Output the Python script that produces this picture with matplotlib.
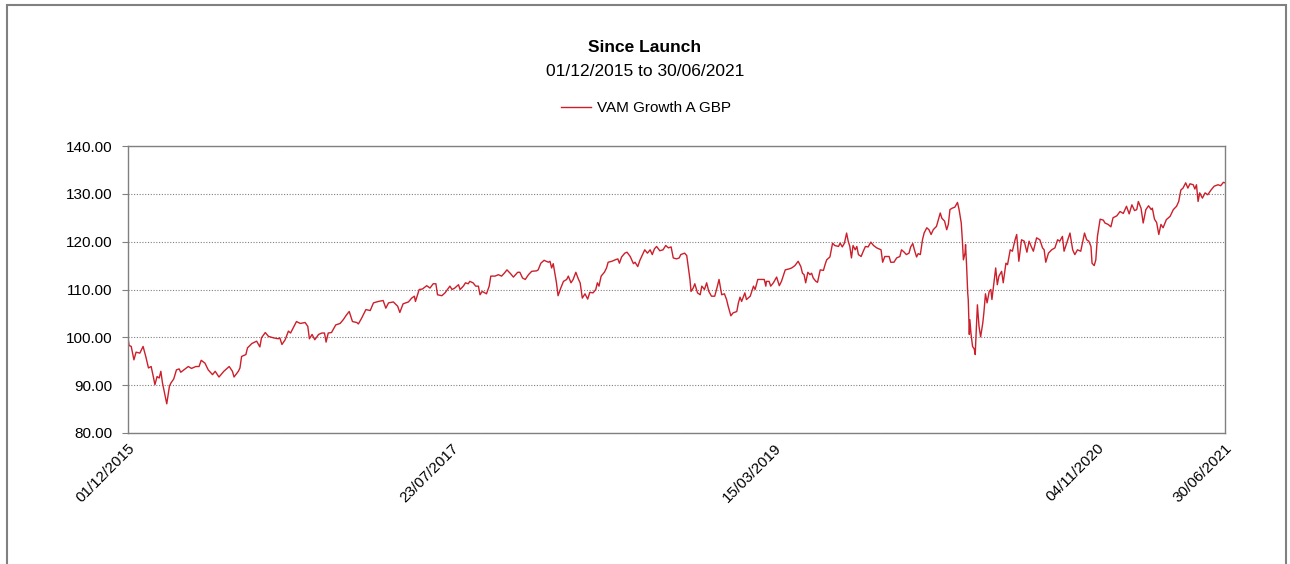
import datetime as dt
import matplotlib
matplotlib.use("Agg")
import matplotlib.pyplot as plt
from matplotlib.patches import Rectangle

plt.rcParams['font.family'] = ['Liberation Sans', 'DejaVu Sans']

launch = dt.date(2015, 12, 1)
end = dt.date(2021, 6, 30)

# days since launch
day_offset = [
    0, 2, 6, 11, 15, 22, 28, 33, 38, 43, 47, 50, 54, 58, 61, 64, 72, 77, 80, 85,
    90, 95, 98, 106, 112, 118, 126, 132, 136, 143, 149, 157, 162, 169, 178, 188,
    194, 197, 205, 208, 211, 219, 222, 230, 239, 245, 248, 255, 261, 270, 279, 282,
    286, 292, 298, 302, 307, 313, 320, 329, 334, 337, 342, 347, 354, 360, 365, 368,
    372, 378, 386, 394, 400, 406, 411, 417, 425, 428, 434, 442, 450, 456, 465, 474,
    479, 484, 493, 501, 505, 511, 521, 527, 532, 534, 541, 547, 555, 561, 567, 572,
    575, 583, 589, 598, 602, 607, 614, 617, 623, 627, 632, 635, 641, 646, 651, 654,
    658, 666, 671, 674, 682, 688, 694, 699, 704, 710, 716, 724, 728, 733, 738, 744,
    750, 759, 762, 767, 773, 781, 784, 787, 790, 793, 796, 799, 804, 809, 815, 818,
    823, 827, 832, 837, 840, 844, 849, 854, 858, 864, 869, 872, 875, 879, 885, 889,
    892, 899, 905, 910, 913, 917, 923, 927, 933, 939, 942, 947, 951, 955, 960, 965,
    970, 974, 978, 982, 988, 994, 999, 1004, 1009, 1013, 1019, 1024, 1027, 1034, 1038,
    1044, 1046, 1050, 1053, 1058, 1063, 1066, 1071, 1075, 1079, 1084, 1090, 1095,
    1098, 1103, 1108, 1112, 1115, 1120, 1124, 1131, 1134, 1137, 1140, 1146, 1149,
    1156, 1162, 1165, 1170, 1177, 1182, 1185, 1186, 1191, 1194, 1199, 1205, 1210,
    1214, 1221, 1228, 1233, 1239, 1245, 1250, 1253, 1256, 1259, 1263, 1267, 1270,
    1273, 1278, 1281, 1286, 1292, 1295, 1298, 1304, 1309, 1313, 1320, 1323, 1327,
    1331, 1335, 1338, 1341, 1344, 1347, 1351, 1354, 1357, 1362, 1366, 1370, 1375,
    1380, 1385, 1391, 1399, 1402, 1406, 1414, 1417, 1423, 1428, 1434, 1437, 1442,
    1446, 1451, 1454, 1458, 1461, 1465, 1468, 1472, 1476, 1479, 1484, 1488, 1492,
    1496, 1502, 1509, 1512, 1517, 1521, 1524, 1527, 1531, 1536, 1541, 1544, 1548,
    1550, 1552, 1555, 1556, 1558, 1560, 1561, 1563, 1564, 1566, 1569, 1572, 1574,
    1575, 1578, 1581, 1584, 1588, 1590, 1593, 1596, 1600, 1603, 1605, 1608, 1612,
    1615, 1618, 1623, 1626, 1631, 1634, 1639, 1643, 1648, 1651, 1655, 1660, 1665,
    1670, 1674, 1678, 1682, 1688, 1694, 1699, 1702, 1705, 1710, 1716, 1722, 1727,
    1731, 1736, 1739, 1744, 1750, 1755, 1759, 1764, 1770, 1777, 1781, 1785, 1789,
    1791, 1795, 1798, 1801, 1806, 1812, 1815, 1821, 1826, 1830, 1837, 1843, 1849,
    1855, 1860, 1865, 1870, 1874, 1877, 1882, 1886, 1891, 1896, 1901, 1903, 1907,
    1911, 1915, 1919, 1923, 1929, 1936, 1942, 1948, 1952, 1956, 1960, 1965, 1969,
    1973, 1979, 1982, 1985, 1988, 1991, 1996, 2001, 2006, 2012, 2018, 2025, 2030,
    2035, 2038,
]

vam_growth = [
    100.0, 98.3, 98.1, 95.3, 96.9, 96.7, 98.1, 96.0, 93.6, 93.9, 91.8, 90.1, 91.8, 91.5, 92.9, 90.5, 86.1, 89.8, 90.5, 91.3,
    93.2, 93.4, 92.7, 93.4, 93.9, 93.5, 93.9, 93.9, 95.2, 94.6, 93.2, 92.2, 92.9, 91.7, 92.9, 93.9,
    92.9, 91.7, 92.9, 93.6, 96.0, 96.4, 97.8, 98.7, 99.2, 98.0, 99.9, 101.0, 100.2, 99.9, 99.7, 99.9,
    98.5, 99.5, 101.3, 100.9, 102.0, 103.3, 102.9, 103.1, 102.3, 99.7, 100.6, 99.5, 100.6, 100.9, 100.9, 99.0,
    100.9, 101.0, 102.6, 102.9, 103.7, 104.7, 105.4, 103.3, 103.1, 102.8, 104.0, 105.8, 105.6, 107.2, 107.5, 107.7,
    106.1, 107.2, 107.4, 106.5, 105.2, 107.0, 107.4, 108.2, 108.6, 107.5, 110.0, 110.1, 110.8, 110.3, 111.2, 111.2,
    108.9, 108.7, 109.3, 110.7, 110.0, 110.3, 111.0, 110.0, 110.7, 111.4, 111.2, 111.7, 111.4, 110.7, 110.7, 108.9,
    109.6, 109.1, 110.7, 112.8, 112.8, 113.1, 112.8, 113.4, 114.1, 113.4, 112.6, 113.6, 113.6, 112.4, 112.1, 113.1,
    113.8, 113.9, 114.1, 115.5, 116.1, 115.7, 115.9, 114.5, 115.4, 113.4, 111.4, 108.7, 110.3, 111.7, 112.1, 112.8,
    111.4, 112.1, 113.6, 112.1, 111.4, 108.2, 109.1, 108.0, 109.4, 109.3, 110.0, 111.4, 110.7, 112.8, 113.6, 114.5,
    115.7, 115.9, 116.2, 116.4, 115.5, 116.8, 117.6, 117.8, 116.9, 115.4, 115.7, 114.8, 116.1, 117.1, 118.3, 117.6,
    118.3, 117.3, 118.5, 119.0, 118.1, 118.3, 119.2, 118.7, 118.9, 116.6, 116.4, 116.6, 117.3, 117.6, 117.1,
    112.1, 109.6, 110.3, 111.2, 109.3, 108.9, 110.7, 110.0, 111.4, 109.6, 108.6, 108.6, 110.7,
    112.1, 108.9, 109.1, 107.9, 106.5, 104.5, 105.1, 105.4, 107.2, 108.4, 107.5, 109.3, 107.9,
    108.6, 110.7, 110.0, 112.1, 112.1, 112.1, 110.7, 111.7, 111.7, 110.7, 111.4, 112.6, 110.8,
    111.7, 114.1, 114.3, 114.5, 115.0, 115.9, 114.8, 113.4, 113.1, 111.4, 113.6, 113.1, 113.4,
    112.4, 111.7, 111.5, 114.1, 114.0, 115.2, 116.2, 116.8, 119.7, 119.2, 119.0, 119.7, 118.9,
    119.7, 121.8, 120.1, 119.0, 116.6, 119.2, 118.3, 119.0, 117.3, 116.9, 118.0, 119.0, 118.9,
    119.9, 119.2, 118.7, 118.3, 115.7, 116.9, 116.9, 115.7, 115.7, 116.6, 116.9, 118.3, 117.8,
    117.3, 117.6, 118.9, 119.6, 118.3, 116.8, 117.5, 117.3, 120.4, 121.8, 122.9, 122.5, 121.5,
    122.5, 123.2, 126.0, 124.9, 124.3, 122.5, 123.6, 126.7, 127.0, 127.2, 128.2, 126.7, 123.9,
    120.4, 116.2, 117.6, 119.4, 114.8, 109.3, 107.9, 100.6, 103.7, 100.9, 98.1, 97.6, 96.4,
    99.2, 106.8, 102.3, 100.1, 103.0, 105.1, 109.1, 107.2, 109.6, 110.0, 107.9, 110.7, 114.5,
    111.0, 112.8, 113.8, 111.4, 115.5, 115.2, 118.3, 118.0, 120.4, 121.5, 115.9, 120.4, 120.1,
    117.8, 120.1, 119.0, 118.0, 120.8, 120.4, 118.7, 118.3, 115.7, 117.6, 118.3, 118.7, 120.4,
    120.1, 121.1, 118.0, 119.7, 121.8, 118.3, 117.3, 118.3, 118.0, 121.8, 120.4, 120.1, 119.0,
    115.5, 115.0, 116.2, 121.1, 124.7, 124.5, 123.9, 123.6, 123.1, 125.0, 125.4, 126.3, 125.9,
    127.4, 125.8, 127.7, 126.5, 126.7, 128.4, 127.0, 123.9, 126.7, 127.5, 126.7, 127.0, 124.7,
    124.0, 121.5, 123.6, 122.9, 124.6, 125.3, 126.7, 127.4, 128.4, 130.8, 131.2, 132.3, 131.2,
    132.1, 131.9, 131.0, 131.9, 128.4, 130.2, 129.1, 130.2, 129.8, 130.8, 131.6, 131.9, 131.7,
    132.4, 132.3,
]

tick_dates = ["01/12/2015", "23/07/2017", "15/03/2019", "04/11/2020", "30/06/2021"]
y_ticks = [80, 90, 100, 110, 120, 130, 140]

dates = [launch + dt.timedelta(days=d) for d in day_offset]
ticks = [dt.datetime.strptime(t, "%d/%m/%Y").date() for t in tick_dates]

W, H = 1290, 564
fig = plt.figure(figsize=(W / 100, H / 100), dpi=100)
ax = fig.add_axes([128 / W, 1 - 433 / H, (1225 - 128) / W, (433 - 146) / H])

# outer chart border (bottom runs off the image)
fig.patches.append(Rectangle((7 / W, -0.05), (1286 - 7) / W, (564 - 5) / H + 0.05,
                             transform=fig.transFigure, fill=False,
                             edgecolor='#808080', linewidth=1.5))

line, = ax.plot(dates, vam_growth, color='#CC1F2B', linewidth=1.0, label='VAM Growth A GBP')

ax.set_xlim(launch, end)
ax.set_ylim(80, 140)
ax.set_yticks(y_ticks)
ax.set_yticklabels([f"{v:.2f}" for v in y_ticks])
ax.set_xticks(ticks)
ax.set_xticklabels(tick_dates, rotation=45, ha='right', va='top', rotation_mode='anchor')

ax.yaxis.grid(True, linestyle=(0, (1, 1.5)), color='#808080', linewidth=0.8)
ax.set_axisbelow(True)
for s in ax.spines.values():
    s.set_color('#808080')
    s.set_linewidth(1.0)
ax.tick_params(axis='y', length=4, color='#808080', labelsize=11, pad=7)
ax.tick_params(axis='x', length=0, labelsize=11, pad=6)

fig.text(0.5, 1 - 47 / H, "Since Launch", ha='center', va='center', fontsize=12.5, fontweight='bold')
fig.text(0.5, 1 - 72 / H, "01/12/2015 to 30/06/2021", ha='center', va='center', fontsize=12.5)
fig.legend(handles=[line], loc='center', bbox_to_anchor=(646 / W, 1 - 108 / H), frameon=False,
           fontsize=11, handlelength=2.0, handletextpad=0.4)

fig.savefig("out.png", dpi=100)
